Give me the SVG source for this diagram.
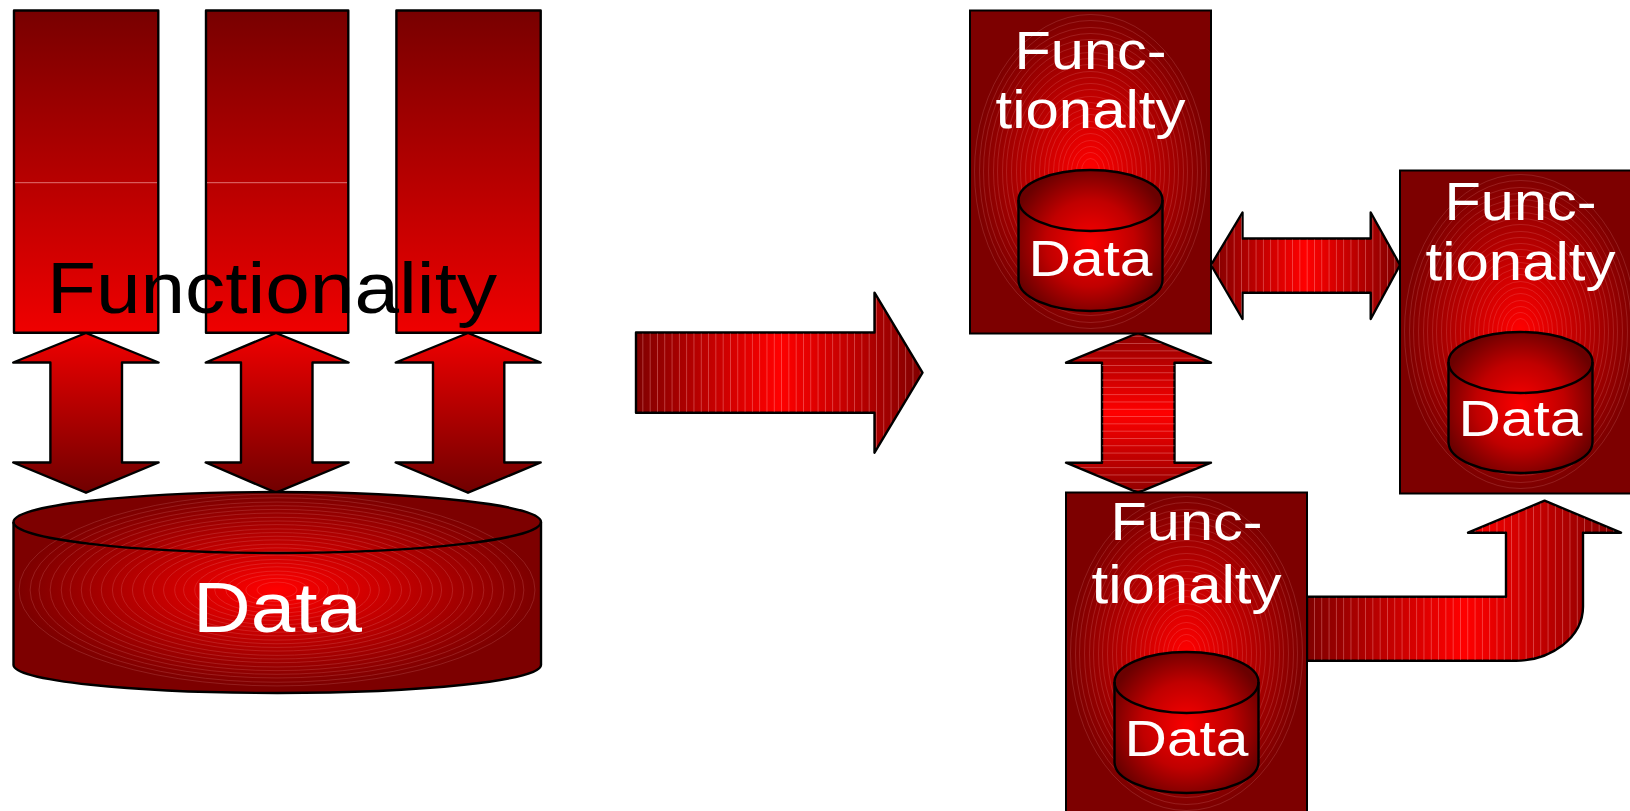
<svg xmlns="http://www.w3.org/2000/svg" width="1630" height="811" viewBox="0 0 1630 811">
<style>
.o{stroke:#000;stroke-width:2.4;stroke-linejoin:round}
.l{stroke:#000;stroke-width:2.4;fill:none;stroke-linejoin:round}
.t{font-family:"Liberation Sans",Arial,sans-serif;fill:#fff}
.box{fill:#7d0000;stroke:#000;stroke-width:2}
.rs{fill:none;stroke:#ffb0b0;stroke-opacity:.22;stroke-width:.8}
.rs ellipse{vector-effect:non-scaling-stroke}
.seam{stroke:#e07070;stroke-width:1}
</style>
<defs>
<linearGradient id="bar" x1="0" y1="0" x2="0" y2="1"><stop offset="0" stop-color="#780000"/><stop offset="1" stop-color="#ef0000"/></linearGradient>
<linearGradient id="dbl" x1="0" y1="0" x2="0" y2="1"><stop offset="0" stop-color="#f00000"/><stop offset="1" stop-color="#700000"/></linearGradient>
<linearGradient id="h" x1="0" y1="0" x2="1" y2="0"><stop offset="0" stop-color="#800000"/><stop offset=".5" stop-color="#ff0000"/><stop offset="1" stop-color="#800000"/></linearGradient>
<linearGradient id="v" x1="0" y1="0" x2="0" y2="1"><stop offset="0" stop-color="#900000"/><stop offset=".5" stop-color="#ff0000"/><stop offset="1" stop-color="#900000"/></linearGradient>
<linearGradient id="bent" gradientUnits="userSpaceOnUse" x1="1307" y1="0" x2="1621" y2="0"><stop offset="0" stop-color="#800000"/><stop offset=".5" stop-color="#ff0000"/><stop offset="1" stop-color="#800000"/></linearGradient>
<radialGradient id="glow"><stop offset="0" stop-color="#ff0000"/><stop offset="1" stop-color="#7d0000"/></radialGradient>
<radialGradient id="cyl" cx=".5" cy=".52" r=".56"><stop offset="0" stop-color="#fa0000"/><stop offset=".55" stop-color="#c00000"/><stop offset="1" stop-color="#6a0000"/></radialGradient>
<pattern id="pv" width="7.3" height="10" patternUnits="userSpaceOnUse"><rect width=".9" height="10" fill="#ffb0b0" fill-opacity=".38"/></pattern>
<pattern id="ph" width="10" height="7.3" patternUnits="userSpaceOnUse"><rect width="10" height=".9" fill="#ffb0b0" fill-opacity=".38"/></pattern>
<clipPath id="dbClip"><path d="M13.500 522A263.750 30 0 0 1 541 522V665A263.750 28 0 0 1 13.500 665Z"/></clipPath>
<g id="ringset" class="rs">
<ellipse rx="116" ry="157"/><ellipse rx="111" ry="151"/><ellipse rx="107" ry="144"/><ellipse rx="102" ry="138"/><ellipse rx="97" ry="132"/><ellipse rx="93" ry="126"/><ellipse rx="88" ry="119"/><ellipse rx="84" ry="113"/><ellipse rx="79" ry="107"/><ellipse rx="74" ry="100"/><ellipse rx="70" ry="94"/><ellipse rx="65" ry="88"/><ellipse rx="60" ry="82"/><ellipse rx="56" ry="75"/><ellipse rx="51" ry="69"/><ellipse rx="46" ry="63"/><ellipse rx="42" ry="57"/><ellipse rx="37" ry="50"/><ellipse rx="32" ry="44"/><ellipse rx="28" ry="38"/><ellipse rx="23" ry="31"/><ellipse rx="19" ry="25"/><ellipse rx="14" ry="19"/><ellipse rx="9" ry="13"/>
</g>
<g id="mini">
<rect class="box" x="-120.500" y="-161" width="241" height="323"/>
<ellipse rx="116" ry="157" fill="url(#glow)"/>
<use href="#ringset"/>
</g>
<path id="drum" d="M-72 30A72 30 0 0 1 72 30V110A72 31 0 0 1 -72 110Z"/>
<path id="lid" d="M-72 30A72 31 0 0 0 72 30"/>
</defs>

<g id="connectors">
<g id="arrow-left-1"><path class="o" fill="url(#dbl)" d="M86 333L158.600 362.500H122V462.500H158.600L86 492.700L13.200 462.500H50.400V362.500H13.200Z"/></g>
<g id="arrow-left-2"><path class="o" fill="url(#dbl)" d="M276 333L348.600 362.500H312.500V462.500H348.600L276 492.700L205.700 462.500H241V362.500H205.700Z"/></g>
<g id="arrow-left-3"><path class="o" fill="url(#dbl)" d="M468 333L540.700 362.500H504.300V462.500H540.700L468 492.700L395.700 462.500H433V362.500H395.700Z"/></g>
<g id="arrow-main"><path class="o" fill="url(#h)" d="M636 332.500H874.500V292.700L922.500 372.700L874.500 452.700V412.700H636Z"/><path fill="url(#pv)" d="M637 333.500H874.500V294.700L921 372.700L874.500 450.700V411.700H637Z"/></g>
<g id="arrow-h"><path class="o" fill="url(#h)" d="M1211 265L1242.500 212.500V238.500H1370.700V212.500L1400 265L1370.700 319V292.700H1242.500V319Z"/><path fill="url(#pv)" d="M1212 265L1242.500 214.500V239.500H1370.700V214.500L1399 265L1370.700 317V291.700H1242.500V317Z"/></g>
<g id="arrow-v"><path class="o" fill="url(#v)" d="M1138 333L1211 362.700H1174.500V462.700H1211L1138 492.700L1066 462.700H1102V362.700H1066Z"/><path fill="url(#ph)" d="M1138 334L1208 362.700H1174.500V462.700H1208L1138 491.700L1069 462.700H1102V362.700H1069Z"/></g>
<g id="arrow-bent"><path class="o" fill="url(#bent)" d="M1307 596.700H1506V532.700H1468L1544.600 500.700L1621 532.700H1583V606.700C1583 638 1550 660.700 1516 660.700H1307Z"/><path fill="url(#pv)" d="M1307 597.700H1507V531.700H1472L1544.600 501.700L1617 531.700H1582V606.700C1582 637 1550 659.700 1516 659.700H1307Z"/></g>
</g>

<g id="bar-1"><rect class="o" x="14" y="10.500" width="144.300" height="322.200" fill="url(#bar)"/><line class="seam" x1="15" y1="182.700" x2="157" y2="182.700"/></g>
<g id="bar-2"><rect class="o" x="206" y="10.500" width="142.300" height="322.200" fill="url(#bar)"/><line class="seam" x1="207" y1="182.700" x2="347" y2="182.700"/></g>
<g id="bar-3"><rect class="o" x="396.400" y="10.500" width="144.300" height="322.200" fill="url(#bar)"/></g>
<text id="functionality" x="47" y="312.700" font-size="72" textLength="450" lengthAdjust="spacingAndGlyphs" font-family="Liberation Sans,Arial,sans-serif" fill="#000">Functionality</text>

<g id="data-store">
<path d="M13.500 522A263.750 30 0 0 1 541 522V665A263.750 28 0 0 1 13.500 665Z" fill="#7d0000"/>
<g clip-path="url(#dbClip)">
<ellipse cx="277" cy="590" rx="258" ry="96" fill="url(#glow)"/>
<g transform="translate(277 590) scale(2.224 .611)"><use href="#ringset"/></g>
</g>
<path class="l" d="M13.500 522A263.750 30 0 0 1 541 522V665A263.750 28 0 0 1 13.500 665Z"/>
<path class="l" d="M13.500 522A263.750 31 0 0 0 541 522"/>
<text class="t" x="193" y="632" font-size="70" textLength="169" lengthAdjust="spacingAndGlyphs">Data</text>
</g>

<g id="node-a" transform="translate(1090.500 171.500)">
<use href="#mini"/>
<g transform="translate(0 -1.500)"><use href="#drum" class="o" fill="url(#cyl)"/><use href="#lid" class="l"/></g>
<text class="t" text-anchor="middle" y="-103" font-size="53" textLength="152" lengthAdjust="spacingAndGlyphs">Func-</text>
<text class="t" text-anchor="middle" y="-44" font-size="53" textLength="190" lengthAdjust="spacingAndGlyphs">tionalty</text>
<text class="t" text-anchor="middle" y="104" font-size="50" textLength="124" lengthAdjust="spacingAndGlyphs">Data</text>
</g>
<g id="node-b" transform="translate(1520.500 331.500)">
<use href="#mini"/>
<g transform="translate(0 .5)"><use href="#drum" class="o" fill="url(#cyl)"/><use href="#lid" class="l"/></g>
<text class="t" text-anchor="middle" y="-111.500" font-size="53" textLength="152" lengthAdjust="spacingAndGlyphs">Func-</text>
<text class="t" text-anchor="middle" y="-52" font-size="53" textLength="190" lengthAdjust="spacingAndGlyphs">tionalty</text>
<text class="t" text-anchor="middle" y="104.500" font-size="50" textLength="124" lengthAdjust="spacingAndGlyphs">Data</text>
</g>
<g id="node-c" transform="translate(1186.500 653.500)">
<use href="#mini"/>
<g transform="translate(0 -1.500)"><use href="#drum" class="o" fill="url(#cyl)"/><use href="#lid" class="l"/></g>
<text class="t" text-anchor="middle" y="-113.500" font-size="53" textLength="152" lengthAdjust="spacingAndGlyphs">Func-</text>
<text class="t" text-anchor="middle" y="-51" font-size="53" textLength="190" lengthAdjust="spacingAndGlyphs">tionalty</text>
<text class="t" text-anchor="middle" y="102.500" font-size="50" textLength="124" lengthAdjust="spacingAndGlyphs">Data</text>
</g>
</svg>
